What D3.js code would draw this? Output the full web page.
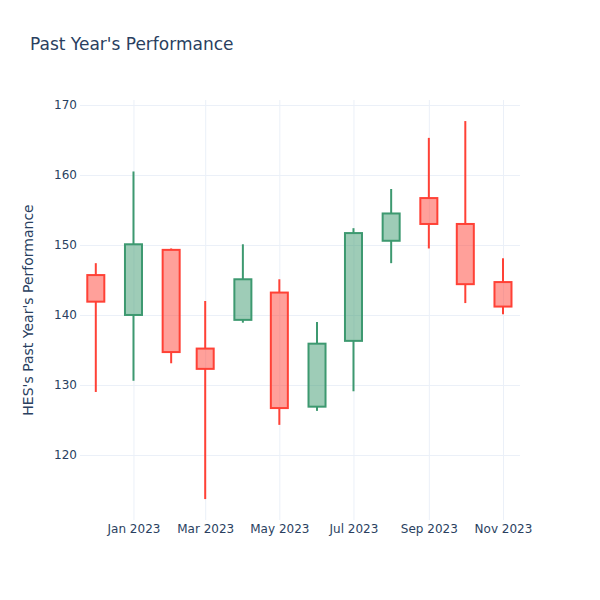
<!DOCTYPE html>
<html>
<head>
<meta charset="utf-8">
<script src="https://cdn.jsdelivr.net/npm/d3@7"></script>
<style>
body { margin: 0; background: #fff; }
svg { display: block; font-family: "DejaVu Sans", Verdana, sans-serif; }
</style>
</head>
<body>
<div id="chart"></div>
<script>
const dates = ["2022-12-01","2023-01-01","2023-02-01","2023-03-01","2023-04-01","2023-05-01","2023-06-01","2023-07-01","2023-08-01","2023-09-01","2023-10-01","2023-11-01"];
const openVals  = [145.7, 140.0, 149.3, 135.2, 139.3, 143.2, 126.9, 136.3, 150.6, 156.7, 153.0, 144.7];
const highVals  = [147.4, 160.5, 149.5, 142.0, 150.1, 145.1, 139.0, 152.4, 158.0, 165.3, 167.7, 148.1];
const lowVals   = [129.0, 130.6, 133.1, 113.7, 138.9, 124.3, 126.3, 129.1, 147.4, 149.5, 141.7, 140.1];
const closeVals = [141.9, 150.1, 134.7, 132.3, 145.1, 126.7, 135.9, 151.7, 154.5, 153.0, 144.4, 141.2];
const yTicks = [120, 130, 140, 150, 160, 170];
const xTickDates = ["2023-01-01","2023-03-01","2023-05-01","2023-07-01","2023-09-01","2023-11-01"];
const titleText = "Past Year's Performance";
const yTitle = "HES's Past Year's Performance";

const W = 600, H = 600;
const m = {l: 80, r: 80, t: 100, b: 80};
const parse = d3.utcParse("%Y-%m-%d");
const data = dates.map((d, i) => ({date: parse(d), o: openVals[i], h: highVals[i], l: lowVals[i], c: closeVals[i]}));

const x = d3.scaleUtc()
  .domain([parse("2022-11-18"), parse("2023-11-15")])
  .range([m.l, W - m.r]);
const y = d3.scaleLinear().domain([110.71, 170.71]).range([H - m.b, m.t]);

const svg = d3.select("#chart").append("svg").attr("width", W).attr("height", H);
const textColor = "#2a3f5f";
const gridColor = "#ebf0f8";

// grid
const gx = svg.append("g").attr("transform", `translate(0,${H - m.b})`)
  .call(d3.axisBottom(x).tickValues(xTickDates.map(parse)).tickFormat(d3.utcFormat("%b %Y")).tickSize(-(H - m.t - m.b)).tickPadding(4));
gx.attr("font-family", null).attr("font-size", null);
gx.select(".domain").remove();
gx.selectAll("line").attr("stroke", gridColor).attr("stroke-width", 1);
gx.selectAll("text").attr("fill", textColor).style("font-size", "12px");

const gy = svg.append("g").attr("transform", `translate(${m.l},0)`)
  .call(d3.axisLeft(y).tickValues(yTicks).tickSize(-(W - m.l - m.r)).tickPadding(3));
gy.attr("font-family", null).attr("font-size", null);
gy.select(".domain").remove();
gy.selectAll("line").attr("stroke", gridColor).attr("stroke-width", 1);
gy.selectAll("text").attr("fill", textColor).style("font-size", "12px");

// candles
const halfW = (x(parse("2023-02-15")) - x(parse("2023-02-01"))) / 2;
const inc = {line: "#3D9970", fill: "rgba(61,153,112,0.5)"};
const dec = {line: "#FF4136", fill: "rgba(255,65,54,0.5)"};
const g = svg.append("g");
data.forEach(d => {
  const s = d.c >= d.o ? inc : dec;
  const cx = x(d.date);
  const top = y(Math.max(d.o, d.c)), bot = y(Math.min(d.o, d.c));
  g.append("line").attr("x1", cx).attr("x2", cx).attr("y1", y(d.h)).attr("y2", top)
    .attr("stroke", s.line).attr("stroke-width", 2);
  g.append("line").attr("x1", cx).attr("x2", cx).attr("y1", bot).attr("y2", y(d.l))
    .attr("stroke", s.line).attr("stroke-width", 2);
  g.append("rect").attr("x", cx - halfW).attr("y", top).attr("width", 2 * halfW).attr("height", Math.max(bot - top, 0.5))
    .attr("fill", s.fill).attr("stroke", s.line).attr("stroke-width", 2);
});

// titles
svg.append("text").attr("x", 30).attr("y", 50).attr("fill", textColor)
  .style("font-size", "17px").text(titleText);
svg.append("text").attr("transform", `translate(33,${(m.t + H - m.b) / 2}) rotate(-90)`)
  .attr("text-anchor", "middle").attr("fill", textColor).style("font-size", "14px").text(yTitle);
</script>
</body>
</html>
